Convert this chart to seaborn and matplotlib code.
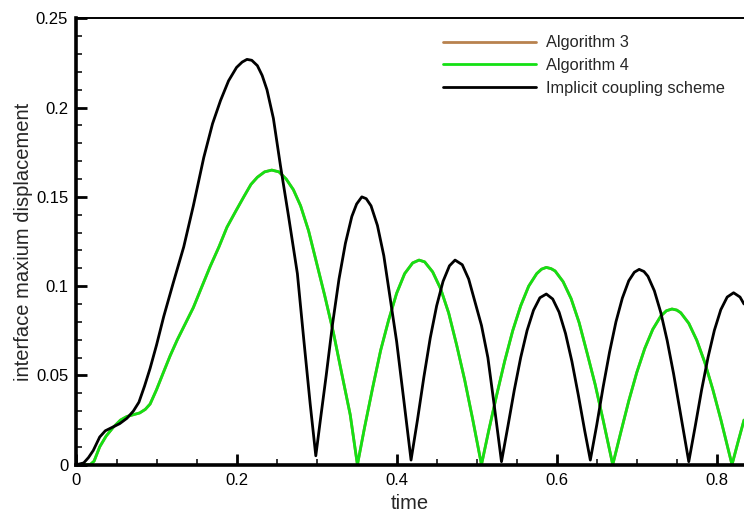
import numpy as np
import pandas as pd
import seaborn as sns
import matplotlib
matplotlib.use("Agg")
import matplotlib.pyplot as plt
from matplotlib.ticker import MultipleLocator

""" Data read off the reference plot """
# Algorithm 4 (green) - Algorithm 3 lies exactly underneath it
t_alg4 = [0.000, 0.017, 0.022, 0.029, 0.037, 0.046, 0.055, 0.063, 0.071, 0.079,
          0.086, 0.092, 0.100, 0.108, 0.117, 0.126, 0.136, 0.146, 0.156, 0.167,
          0.178, 0.188, 0.199, 0.209, 0.218, 0.226, 0.235, 0.244, 0.253, 0.262,
          0.271, 0.280, 0.290, 0.300, 0.310, 0.321, 0.331, 0.342, 0.351,
          0.360, 0.370, 0.380, 0.390, 0.400, 0.410, 0.420, 0.428, 0.435, 0.445,
          0.455, 0.465, 0.475, 0.485, 0.495, 0.506,
          0.515, 0.525, 0.535, 0.545, 0.555, 0.565, 0.575, 0.581, 0.587, 0.593, 0.598, 0.608,
          0.618, 0.628, 0.638, 0.648, 0.658, 0.670,
          0.680, 0.690, 0.700, 0.710, 0.720, 0.730, 0.737, 0.744, 0.750, 0.755, 0.765, 0.775,
          0.785, 0.795, 0.805, 0.819, 0.827, 0.834]
d_alg4 = [0.000, 0.000, 0.002, 0.010, 0.016, 0.021, 0.025, 0.027, 0.028, 0.029,
          0.031, 0.034, 0.042, 0.051, 0.061, 0.070, 0.079, 0.088, 0.099, 0.111,
          0.122, 0.133, 0.142, 0.150, 0.157, 0.161, 0.164, 0.165, 0.164, 0.160,
          0.154, 0.145, 0.131, 0.113, 0.095, 0.074, 0.052, 0.028, 0.000,
          0.021, 0.043, 0.064, 0.081, 0.096, 0.107, 0.113, 0.1146, 0.1136, 0.108,
          0.0985, 0.085, 0.067, 0.0475, 0.0255, 0.000,
          0.019, 0.039, 0.058, 0.075, 0.089, 0.100, 0.107, 0.1095, 0.1105, 0.1098, 0.1085, 0.1025,
          0.093, 0.0796, 0.0625, 0.045, 0.025, 0.000,
          0.018, 0.0357, 0.0516, 0.0651, 0.0758, 0.0832, 0.0862, 0.0872, 0.0866, 0.0851, 0.0792, 0.0697,
          0.0573, 0.0422, 0.0254, 0.000, 0.0135, 0.025]
t_alg3 = t_alg4
d_alg3 = d_alg4

# Implicit coupling scheme (black)
t_impl = [0.000, 0.009, 0.015, 0.021, 0.029, 0.036, 0.045, 0.054, 0.063, 0.071,
          0.078, 0.085, 0.092, 0.100, 0.109, 0.121, 0.134, 0.146, 0.159, 0.170,
          0.180, 0.190, 0.200, 0.207, 0.213, 0.219, 0.226, 0.232, 0.238, 0.246,
          0.255, 0.265, 0.276, 0.284, 0.292, 0.299,
          0.305, 0.312, 0.320, 0.328, 0.336, 0.344, 0.350, 0.3565, 0.362, 0.368, 0.376, 0.384,
          0.392, 0.400, 0.409, 0.418,
          0.426, 0.434, 0.442, 0.450, 0.458, 0.466, 0.473, 0.482, 0.490, 0.498,
          0.506, 0.514, 0.522, 0.531,
          0.539, 0.547, 0.555, 0.563, 0.571, 0.579, 0.587, 0.595, 0.603, 0.611,
          0.619, 0.627, 0.635, 0.642,
          0.650, 0.658, 0.666, 0.674, 0.682, 0.690, 0.697, 0.703, 0.709, 0.714, 0.722, 0.730,
          0.738, 0.746, 0.754, 0.765,
          0.773, 0.781, 0.789, 0.797, 0.805, 0.813, 0.821, 0.829, 0.834]
d_impl = [0.000, 0.001, 0.004, 0.008, 0.0155, 0.019, 0.021, 0.023, 0.026, 0.030,
          0.035, 0.044, 0.054, 0.067, 0.083, 0.102, 0.122, 0.145, 0.172, 0.191,
          0.204, 0.215, 0.2225, 0.2255, 0.227, 0.2265, 0.2235, 0.218, 0.210, 0.194,
          0.167, 0.139, 0.107, 0.070, 0.034, 0.005,
          0.026, 0.050, 0.079, 0.104, 0.124, 0.139, 0.146, 0.150, 0.149, 0.145, 0.134, 0.117,
          0.093, 0.069, 0.036, 0.0026,
          0.025, 0.049, 0.071, 0.089, 0.1027, 0.1114, 0.1146, 0.112, 0.104, 0.091,
          0.078, 0.060, 0.033, 0.0017,
          0.0215, 0.0418, 0.060, 0.0752, 0.0865, 0.0935, 0.0956, 0.0928, 0.0854, 0.0735,
          0.0578, 0.039, 0.019, 0.0026,
          0.0222, 0.0435, 0.063, 0.080, 0.0933, 0.103, 0.1078, 0.1094, 0.1082, 0.1055, 0.0974, 0.0853,
          0.0696, 0.051, 0.0303, 0.0017,
          0.0214, 0.0418, 0.060, 0.0753, 0.0868, 0.0939, 0.0963, 0.0939, 0.090]

""" Plotting """
sns.set_style("white")
plt.rcParams['font.family'] = ['Liberation Sans', 'DejaVu Sans']

fig = plt.figure(figsize=(7.44, 5.16), dpi=100)
ax = fig.add_axes([0.1028, 0.0994, 0.8972, 0.8651])

sns.lineplot(x=t_alg3, y=d_alg3, ax=ax, color="#b8824e", linewidth=2, label="Algorithm 3")
sns.lineplot(x=t_alg4, y=d_alg4, ax=ax, color="#14e014", linewidth=2, label="Algorithm 4")
sns.lineplot(x=t_impl, y=d_impl, ax=ax, color="black", linewidth=2, label="Implicit coupling scheme")

ax.set_xlim(0, 0.834)
ax.set_ylim(0, 0.25)
ax.xaxis.set_major_locator(MultipleLocator(0.2))
ax.xaxis.set_minor_locator(MultipleLocator(0.05))
ax.yaxis.set_major_locator(MultipleLocator(0.05))
ax.yaxis.set_minor_locator(MultipleLocator(0.01))
ax.xaxis.set_major_formatter(plt.FuncFormatter(lambda v, p: "0" if v == 0 else f"{v:g}"))
ax.yaxis.set_major_formatter(plt.FuncFormatter(lambda v, p: "0" if v == 0 else f"{v:g}"))

ax.tick_params(which="major", direction="in", length=8, width=2, labelsize=12,
               colors="black", pad=6, bottom=True, left=True)
ax.tick_params(which="minor", direction="in", length=4, width=1.3,
               bottom=True, left=True)

for side in ["left", "bottom"]:
    ax.spines[side].set_linewidth(2.6)
    ax.spines[side].set_color("black")
ax.spines["top"].set_linewidth(1.4)
ax.spines["top"].set_color("black")
ax.spines["right"].set_visible(False)

ax.set_xlabel("time", fontsize=14.5, labelpad=4)
ax.set_ylabel("interface maxium displacement", fontsize=14.5, labelpad=2)

ax.legend(loc="upper left", bbox_to_anchor=(0.527, 0.995), frameon=False,
          fontsize=11.8, handlelength=5.7, handletextpad=0.6, labelspacing=0.48)

plt.savefig("out.png", dpi=100)
